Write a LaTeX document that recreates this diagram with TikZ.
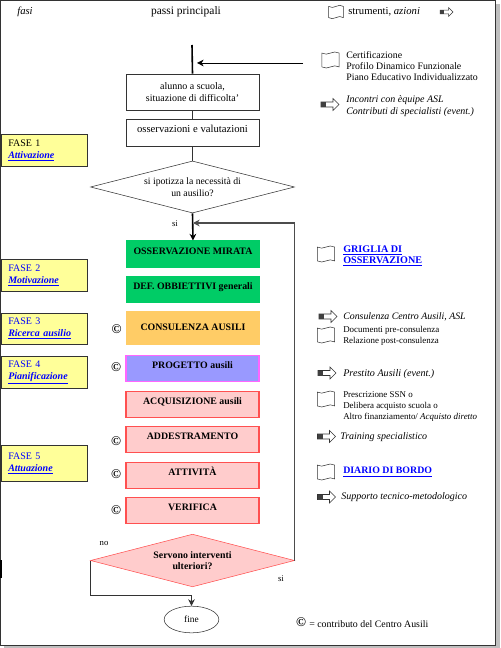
\documentclass[tikz,border=0pt]{standalone}
\usepackage{fontspec}
\setmainfont{Liberation Serif}
\usepackage{tikz}
\usetikzlibrary{arrows.meta, shapes.geometric, shapes.symbols}
\usepackage{xcolor}
\definecolor{faseY}{RGB}{255, 255, 153}
\definecolor{linkB}{RGB}{0, 0, 255}
\definecolor{stepG}{RGB}{0, 204, 102}
\definecolor{stepO}{RGB}{255, 204, 102}
\definecolor{stepP}{RGB}{153, 153, 255}
\definecolor{stepM}{RGB}{255, 102, 255}
\definecolor{stepR}{RGB}{255, 204, 204}
\definecolor{edgeR}{RGB}{255, 80, 80}
\tikzset{
  fasebox/.style={draw=black!80, fill=faseY, minimum width=64.5pt, align=left, anchor=north west, inner sep=0pt, text width=60pt, font=\fontsize{7.5}{10}\selectfont},
  plainbox/.style={draw=black!80, minimum width=99.75pt, align=center, inner sep=0pt, font=\fontsize{7.5}{9}\selectfont},
  stepbox/.style={draw, thick, minimum width=99.75pt, align=center, inner sep=0pt, text height=6pt, text depth=6pt, font=\fontsize{7.4}{9}\selectfont\bfseries},
  flagicon/.style={tape, draw=black!80, tape bend height=1.6pt, minimum width=11pt, minimum height=10pt, inner sep=0pt},
  bigflag/.style={flagicon, minimum width=13pt, minimum height=12pt},
  arrowicon/.pic={
    \draw[black!80, fill=white] (-9, -2.5) -- (3, -2.5) -- (3, -6) -- (9, 0) -- (3, 6) -- (3, 2.5) -- (-9, 2.5) -- cycle;
    \fill[black!75] (-9, -2.5) rectangle (-4, 2.5);
  },
  note/.style={anchor=west, align=left, inner sep=0pt, font=\fontsize{7.4}{8.4}\selectfont},
  action/.style={note, font=\fontsize{7.5}{8.6}\selectfont\itshape},
  document/.style={note, font=\fontsize{6.7}{8}\selectfont},
  copymark/.style={inner sep=0pt, font=\fontsize{10}{10}\selectfont\bfseries},
  small/.style={inner sep=0pt, font=\fontsize{6.5}{8}\selectfont}
}
\begin{document}
\begin{tikzpicture}[x=0.75pt, y=-0.75pt, >={Stealth[length=5pt, width=5pt]}]
  \useasboundingbox (0, 0) rectangle (500, 648);
  % page frame
  \fill[black!25] (4, 646) rectangle (500, 648);
  \fill[black!25] (496, 4) rectangle (500, 648);
  \draw[black!80, thick] (0.5, 0.5) rectangle (495.5, 645.5);
  \draw[very thick] (1, 560) -- (1, 578);

  % header
  \node[inner sep=0pt, font=\fontsize{8}{8}\selectfont\itshape] (fasi) at (25, 12) {fasi};
  \node[inner sep=0pt, font=\fontsize{8.6}{8}\selectfont] (passi) at (186, 12) {passi principali};
  \node[flagicon] (hflag) at (336, 12) {};
  \node[note, font=\fontsize{8}{8}\selectfont] (strumenti) at (348, 12) {strumenti, \textit{azioni}};
  \pic[scale=0.72] at (446.5, 12) {arrowicon};

  % phases
  \node[fasebox, minimum height=24pt] (fase1) at (1, 134) {\hspace*{3pt}FASE 1\\[-1pt]\hspace*{3pt}\textcolor{linkB}{\textbf{\textit{\underline{Attivazione}}}}};
  \node[fasebox, minimum height=24pt, text=linkB] (fase2) at (1, 259) {\hspace*{3pt}FASE 2\\[-1pt]\hspace*{3pt}\textbf{\textit{\underline{Motivazione}}}};
  \node[fasebox, minimum height=23pt, text=linkB] (fase3) at (1, 313) {\hspace*{3pt}FASE 3\\[-1pt]\hspace*{3pt}\textbf{\textit{\underline{Ricerca ausilio}}}};
  \node[fasebox, minimum height=24pt, text=linkB] (fase4) at (1, 356) {\hspace*{3pt}FASE 4\\[-1pt]\hspace*{3pt}\textbf{\textit{\underline{Pianificazione}}}};
  \node[fasebox, minimum height=27pt, text=linkB] (fase5) at (1, 445) {\hspace*{3pt}FASE 5\\[-1pt]\hspace*{3pt}\textbf{\textit{\underline{Attuazione}}}};

  % main steps
  \coordinate (start) at (192, 45);
  \coordinate (entry) at (197, 63);
  \coordinate (certif) at (303, 63);
  \coordinate (join) at (193, 223);
  \node[plainbox, minimum height=27pt] (alunno) at (192.5, 92) {alunno a scuola,\\situazione di difficolta'};
  \node[plainbox, minimum height=20pt, text height=6pt, text depth=6pt, font=\fontsize{8}{9}\selectfont] (osserv) at (192.5, 132.5) {osservazioni e valutazioni};
  \node[diamond, draw=black!80, aspect=3.9, minimum width=153pt, minimum height=39pt, inner sep=0pt, align=center, font=\fontsize{7.3}{9}\selectfont] (ipotesi) at (192.5, 187) {si ipotizza la necessità di\\un ausilio?};
  \node[stepbox, draw=stepG, fill=stepG, minimum height=19.5pt] (mirata) at (193, 254) {OSSERVAZIONE MIRATA};
  \node[stepbox, draw=stepG, fill=stepG, minimum height=20pt] (obiett) at (193, 289.5) {DEF. OBBIETTIVI generali};
  \node[stepbox, draw=stepO, fill=stepO, minimum height=24pt, text depth=2pt] (consul) at (193, 328) {CONSULENZA AUSILI};
  \node[stepbox, draw=stepM, fill=stepP, minimum height=19pt] (progetto) at (192.5, 368.5) {PROGETTO ausili};
  \node[stepbox, draw=edgeR, fill=stepR, minimum height=19pt] (acquis) at (192.5, 404.5) {ACQUISIZIONE ausili};
  \node[stepbox, draw=edgeR, fill=stepR, minimum height=19pt] (addestr) at (192.5, 439.5) {ADDESTRAMENTO};
  \node[stepbox, draw=edgeR, fill=stepR, minimum height=19pt] (attiv) at (192.5, 475.5) {ATTIVITÀ};
  \node[stepbox, draw=edgeR, fill=stepR, minimum height=19pt] (verif) at (192.5, 510.5) {VERIFICA};
  \node[diamond, draw=edgeR, fill=stepR, aspect=3.9, minimum width=153pt, minimum height=39.5pt, inner sep=0pt, align=center, font=\fontsize{7.4}{8.5}\selectfont\bfseries] (servono) at (192.5, 560.5) {Servono interventi\\ulteriori?};
  \node[ellipse, draw=black!80, minimum width=41pt, minimum height=20pt, inner sep=0pt, font=\fontsize{7}{7}\selectfont] (fine) at (191.5, 619.5) {fine};

  % connectors
  \draw[very thick] (start) -- (alunno.north);
  \draw[->] (certif) -- (entry);
  \draw[black!80] (alunno.south) -- (osserv.north);
  \draw[black!80] (osserv.south) -- (ipotesi.north);
  \draw[->, very thick] (ipotesi.south) -- (mirata.north);
  \draw[->, black!70, thick] (servono.east) |- (join);
  \draw[->, black!80] (servono.west) -- ++(0, 35) -| (fine.north);
  \node[small] (si1) at (175, 224) {si};
  \node[small] (si2) at (281, 579) {si};
  \node[small] (no) at (104, 543) {no};

  % centre marks
  \node[copymark] (c1) at (116.5, 329) {©};
  \node[copymark] (c2) at (116, 367) {©};
  \node[copymark] (c3) at (116, 441) {©};
  \node[copymark] (c4) at (116, 474) {©};
  \node[copymark] (c5) at (116, 510) {©};

  % tools and actions
  \node[bigflag] (flag1) at (330.5, 60) {};
  \node[note] (certnote) at (346, 66) {Certificazione\\Profilo Dinamico Funzionale\\Piano Educativo Individualizzato};
  \pic at (330, 104.5) {arrowicon};
  \node[action] (incontri) at (346, 106) {Incontri con èquipe ASL\\Contributi di specialisti (event.)};
  \node[bigflag] (flag2) at (326, 254) {};
  \node[note, text=linkB, font=\fontsize{7.6}{8.4}\selectfont\bfseries] (griglia) at (343, 256) {\underline{GRIGLIA DI}\\\underline{OSSERVAZIONE}};
  \pic at (328, 316.5) {arrowicon};
  \node[action, font=\fontsize{7.4}{8.4}\selectfont\itshape] (consnote) at (343, 317) {Consulenza Centro Ausili, ASL};
  \node[bigflag] (flag3) at (326, 335) {};
  \node[document] (docnote) at (343, 336) {Documenti pre-consulenza\\Relazione post-consulenza};
  \pic at (327, 373) {arrowicon};
  \node[action, font=\fontsize{7.6}{8.4}\selectfont\itshape] (prestito) at (343, 374) {Prestito Ausili (event.)};
  \node[bigflag] (flag4) at (326, 399) {};
  \node[document] (prescr) at (343, 406.5) {Prescrizione SSN o\\Delibera acquisto scuola o\\Altro finanziamento/ \textit{Acquisto diretto}};
  \pic at (326.5, 436.5) {arrowicon};
  \node[action] (training) at (340, 437) {Training specialistico};
  \node[bigflag] (flag5) at (326, 472) {};
  \node[note, text=linkB, font=\fontsize{7.4}{8.4}\selectfont\bfseries] (diario) at (343, 472) {\underline{DIARIO DI BORDO}};
  \pic at (326.5, 497) {arrowicon};
  \node[action] (supporto) at (341, 497) {Supporto tecnico-metodologico};

  % legend
  \node[copymark] (cleg) at (301, 622) {©};
  \node[note] (legenda) at (309, 624) {= contributo del Centro Ausili};
\end{tikzpicture}
\end{document}
